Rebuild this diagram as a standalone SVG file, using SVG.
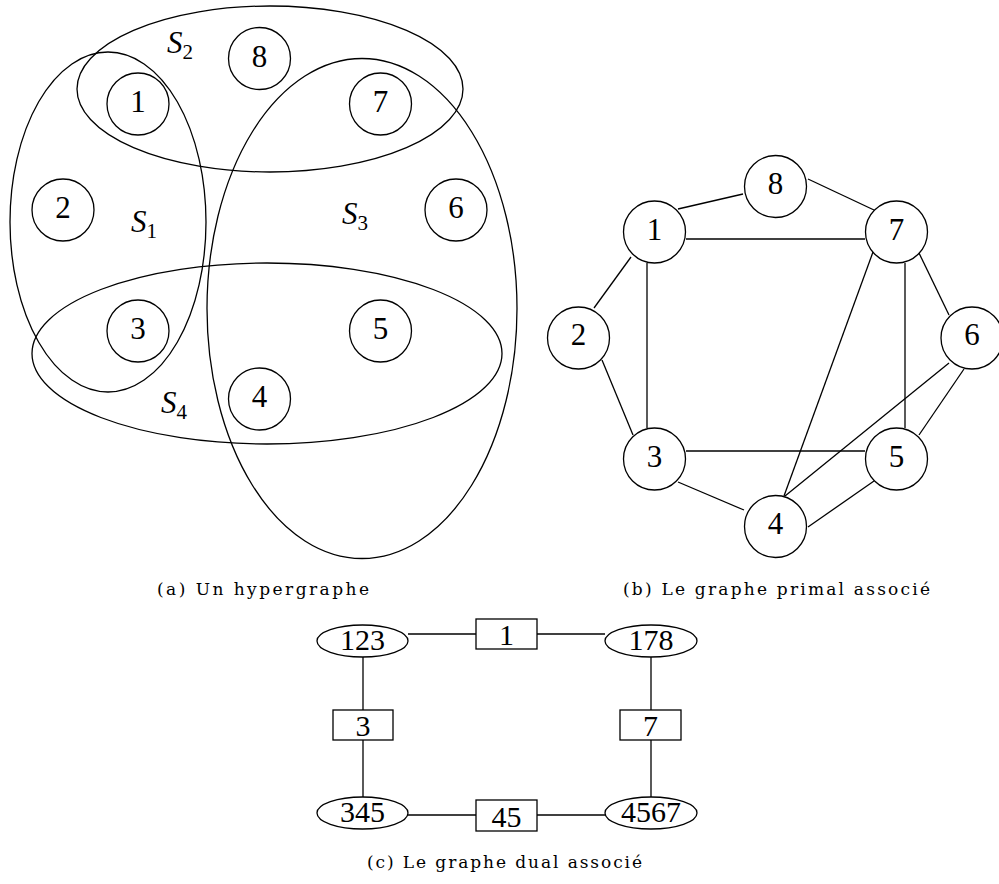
<svg xmlns="http://www.w3.org/2000/svg" width="999" height="884" viewBox="0 0 999 884">
  <style>
    .line { fill: none; stroke: #000; stroke-width: 1.3; }
    .node { fill: #fff; stroke: #000; stroke-width: 1.3; }
    .hnode { fill: none; stroke: #000; stroke-width: 1.3; }
    .set { fill: none; stroke: #000; stroke-width: 1.3; }
    .num { font-family: "Liberation Serif", "DejaVu Serif", serif; font-size: 31px; text-anchor: middle; fill: #000; }
    .dnum { font-family: "Liberation Serif", "DejaVu Serif", serif; font-size: 30px; text-anchor: middle; fill: #000; }
    .set-label { font-family: "Liberation Serif", "DejaVu Serif", serif; font-size: 31px; font-style: italic; fill: #000; }
    .sub { font-style: normal; font-size: 21px; }
    .caption { font-family: "DejaVu Serif", "Liberation Serif", serif; font-size: 17px; fill: #000; }
  </style>
  <rect width="999" height="884" fill="#fff"/>

  <!-- (a) hypergraph: hyperedges as ellipses -->
  <g id="hyperedges">
    <ellipse id="S1" class="set" cx="108" cy="222" rx="98" ry="170"/>
    <ellipse id="S2" class="set" cx="270" cy="89" rx="193" ry="83"/>
    <ellipse id="S3" class="set" cx="362" cy="308.5" rx="155" ry="250"/>
    <ellipse id="S4" class="set" cx="267" cy="353.5" rx="235" ry="90.5"/>
  </g>
  <g id="hyperedge-labels">
    <text class="set-label" x="167" y="53">S<tspan class="sub" dy="6">2</tspan></text>
    <text class="set-label" x="131" y="232">S<tspan class="sub" dy="6">1</tspan></text>
    <text class="set-label" x="342" y="224">S<tspan class="sub" dy="6">3</tspan></text>
    <text class="set-label" x="161" y="413">S<tspan class="sub" dy="6">4</tspan></text>
  </g>
  <g id="hyper-nodes">
    <g id="h1"><circle class="hnode" cx="138" cy="104" r="31"/><text class="num" x="138" y="112">1</text></g>
    <g id="h8"><circle class="hnode" cx="259.5" cy="58.5" r="31"/><text class="num" x="259.5" y="67">8</text></g>
    <g id="h7"><circle class="hnode" cx="380.5" cy="104" r="31"/><text class="num" x="380.5" y="112">7</text></g>
    <g id="h2"><circle class="hnode" cx="63" cy="210" r="31"/><text class="num" x="63" y="218">2</text></g>
    <g id="h6"><circle class="hnode" cx="456" cy="210" r="31"/><text class="num" x="456" y="218">6</text></g>
    <g id="h3"><circle class="hnode" cx="138" cy="331" r="31"/><text class="num" x="138" y="339">3</text></g>
    <g id="h5"><circle class="hnode" cx="380.5" cy="331" r="31"/><text class="num" x="380.5" y="339">5</text></g>
    <g id="h4"><circle class="hnode" cx="259.5" cy="399" r="31"/><text class="num" x="259.5" y="407">4</text></g>
  </g>
  <text class="caption" x="157" y="595" textLength="212" lengthAdjust="spacing">(a) Un hypergraphe</text>

  <!-- (b) primal graph -->
  <g id="primal-edges">
    <line class="line" x1="678" y1="209" x2="743" y2="194"/>
    <line class="line" x1="808" y1="179" x2="874" y2="210"/>
    <line class="line" x1="686" y1="239" x2="865" y2="239"/>
    <line class="line" x1="631" y1="257" x2="594" y2="308"/>
    <line class="line" x1="602" y1="360" x2="633" y2="435"/>
    <line class="line" x1="647" y1="263" x2="647" y2="428"/>
    <line class="line" x1="919" y1="253" x2="949" y2="315"/>
    <line class="line" x1="905" y1="263" x2="905" y2="428"/>
    <line class="line" x1="873" y1="252" x2="784" y2="496"/>
    <line class="line" x1="949" y1="363" x2="785" y2="496"/>
    <line class="line" x1="964" y1="369" x2="919" y2="435"/>
    <line class="line" x1="686" y1="451" x2="865" y2="451"/>
    <line class="line" x1="678" y1="482" x2="744" y2="510"/>
    <line class="line" x1="874" y1="481" x2="808" y2="527"/>
  </g>
  <g id="primal-nodes">
    <g id="p8"><circle class="node" cx="775.5" cy="186.5" r="31"/><text class="num" x="775.5" y="194">8</text></g>
    <g id="p1"><circle class="node" cx="654.5" cy="232" r="31"/><text class="num" x="654.5" y="240">1</text></g>
    <g id="p7"><circle class="node" cx="896.5" cy="232" r="31"/><text class="num" x="896.5" y="240">7</text></g>
    <g id="p2"><circle class="node" cx="578.5" cy="338" r="31"/><text class="num" x="578.5" y="345">2</text></g>
    <g id="p6"><circle class="node" cx="972" cy="338" r="31"/><text class="num" x="972" y="345">6</text></g>
    <g id="p3"><circle class="node" cx="654.5" cy="459" r="31"/><text class="num" x="654.5" y="467">3</text></g>
    <g id="p5"><circle class="node" cx="896.5" cy="459" r="31"/><text class="num" x="896.5" y="467">5</text></g>
    <g id="p4"><circle class="node" cx="775.5" cy="526.5" r="31"/><text class="num" x="775.5" y="534">4</text></g>
  </g>
  <text class="caption" x="623" y="595" textLength="307" lengthAdjust="spacing">(b) Le graphe primal associé</text>

  <!-- (c) dual graph -->
  <g id="dual-edges">
    <line class="line" x1="408" y1="634" x2="476" y2="634"/>
    <line class="line" x1="537" y1="634" x2="605" y2="634"/>
    <line class="line" x1="363" y1="657" x2="363" y2="710"/>
    <line class="line" x1="363" y1="740" x2="363" y2="797"/>
    <line class="line" x1="651" y1="657" x2="651" y2="710"/>
    <line class="line" x1="651" y1="740" x2="651" y2="797"/>
    <line class="line" x1="408" y1="815" x2="476" y2="815"/>
    <line class="line" x1="537" y1="815" x2="605" y2="815"/>
  </g>
  <g id="dual-nodes">
    <g id="d123"><ellipse class="node" cx="362.5" cy="641" rx="45.5" ry="16"/><text class="dnum" x="362.5" y="650">123</text></g>
    <g id="d178"><ellipse class="node" cx="651" cy="641" rx="46" ry="16"/><text class="dnum" x="651" y="650">178</text></g>
    <g id="d345"><ellipse class="node" cx="362.5" cy="813" rx="45.5" ry="16"/><text class="dnum" x="362.5" y="822">345</text></g>
    <g id="d4567"><ellipse class="node" cx="651" cy="813" rx="46" ry="16"/><text class="dnum" x="651" y="822">4567</text></g>
    <g id="b1"><rect class="node" x="476" y="619" width="61" height="30"/><text class="dnum" x="506.5" y="645">1</text></g>
    <g id="b3"><rect class="node" x="333" y="710" width="60" height="30"/><text class="dnum" x="363" y="736">3</text></g>
    <g id="b7"><rect class="node" x="620" y="710" width="61" height="30"/><text class="dnum" x="650.5" y="736">7</text></g>
    <g id="b45"><rect class="node" x="476" y="800" width="61" height="31"/><text class="dnum" x="506.5" y="827">45</text></g>
  </g>
  <text class="caption" x="367" y="868" textLength="275" lengthAdjust="spacing">(c) Le graphe dual associé</text>
</svg>
